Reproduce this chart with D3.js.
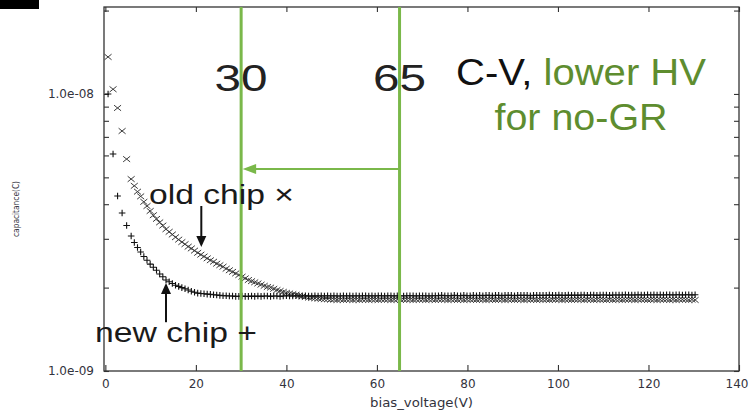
<!DOCTYPE html>
<html>
<head>
<meta charset="utf-8">
<script src="https://cdn.jsdelivr.net/npm/d3@7"></script>
<style>
  body { margin: 0; background: #fff; }
  svg { display: block; }
</style>
</head>
<body>
<svg id="chart" width="749" height="410"></svg>
<script>
// Bias sweep (V)
const biasVoltage = [
  0.6, 1.7, 2.7, 3.7, 4.7, 5.7,
  6.4, 7.1, 7.8, 8.5, 9.2, 9.9, 10.6, 11.3, 12, 12.7,
  13.4, 14.1, 14.8, 15.5, 16.2, 16.9, 17.6, 18.3, 19, 19.7,
  20.4, 21.1, 21.8, 22.5, 23.2, 23.9, 24.6, 25.3, 26, 26.7,
  27.4, 28.1, 28.8, 29.5, 30.2, 30.9, 31.6, 32.3, 33, 33.7,
  34.4, 35.1, 35.8, 36.5, 37.2, 37.9, 38.6, 39.3, 40, 40.7,
  41.4, 42.1, 42.8, 43.5, 44.2, 44.9, 45.6, 46.3, 47, 47.7,
  48.4, 49.1, 49.8, 50.5, 51.2, 51.9, 52.6, 53.3, 54, 54.7,
  55.4, 56.1, 56.8, 57.5, 58.2, 58.9, 59.6, 60.3, 61, 61.7,
  62.4, 63.1, 63.8, 64.5, 65.2, 65.9, 66.6, 67.3, 68, 68.7,
  69.4, 70.1, 70.8, 71.5, 72.2, 72.9, 73.6, 74.3, 75, 75.7,
  76.4, 77.1, 77.8, 78.5, 79.2, 79.9, 80.6, 81.3, 82, 82.7,
  83.4, 84.1, 84.8, 85.5, 86.2, 86.9, 87.6, 88.3, 89, 89.7,
  90.4, 91.1, 91.8, 92.5, 93.2, 93.9, 94.6, 95.3, 96, 96.7,
  97.4, 98.1, 98.8, 99.5, 100.2, 100.9, 101.6, 102.3, 103, 103.7,
  104.4, 105.1, 105.8, 106.5, 107.2, 107.9, 108.6, 109.3, 110, 110.7,
  111.4, 112.1, 112.8, 113.5, 114.2, 114.9, 115.6, 116.3, 117, 117.7,
  118.4, 119.1, 119.8, 120.5, 121.2, 121.9, 122.6, 123.3, 124, 124.7,
  125.4, 126.1, 126.8, 127.5, 128.2, 128.9, 129.6, 130.3
];

// Old chip capacitance (nF), drawn with "x"
const oldChipC = [
  13.6, 10.4, 8.9, 7.35, 5.82, 4.93,
  4.66, 4.44, 4.27, 4.08, 3.94, 3.78, 3.65, 3.54, 3.44, 3.35,
  3.25, 3.18, 3.11, 3.04, 2.98, 2.92, 2.87, 2.81, 2.77, 2.72,
  2.67, 2.63, 2.59, 2.55, 2.51, 2.48, 2.44, 2.41, 2.38, 2.34,
  2.31, 2.28, 2.25, 2.22, 2.19, 2.16, 2.13, 2.11, 2.09, 2.07,
  2.05, 2.03, 2.01, 2.00, 1.98, 1.96, 1.945, 1.93, 1.915, 1.905,
  1.895, 1.885, 1.87, 1.86, 1.85, 1.84, 1.835, 1.83, 1.825, 1.82,
  1.815, 1.815, 1.81, 1.81, 1.805, 1.81, 1.805, 1.81, 1.81, 1.805,
  1.81, 1.805, 1.81, 1.81, 1.805, 1.81, 1.81, 1.805, 1.81, 1.81,
  1.81, 1.805, 1.81, 1.81, 1.805, 1.81, 1.81, 1.81, 1.805, 1.81,
  1.81, 1.81, 1.805, 1.81, 1.81, 1.805, 1.81, 1.81, 1.81, 1.805,
  1.81, 1.81, 1.805, 1.81, 1.805, 1.81, 1.81, 1.81, 1.805, 1.81,
  1.81, 1.805, 1.81, 1.81, 1.805, 1.81, 1.81, 1.805, 1.81, 1.81,
  1.805, 1.81, 1.81, 1.805, 1.81, 1.81, 1.81, 1.805, 1.81, 1.81,
  1.81, 1.805, 1.81, 1.81, 1.81, 1.805, 1.81, 1.81, 1.805, 1.81,
  1.81, 1.81, 1.805, 1.81, 1.81, 1.805, 1.81, 1.81, 1.81, 1.805,
  1.81, 1.805, 1.81, 1.81, 1.805, 1.81, 1.81, 1.81, 1.805, 1.81,
  1.81, 1.81, 1.805, 1.81, 1.81, 1.805, 1.81, 1.81, 1.81, 1.805,
  1.81, 1.805, 1.81, 1.81, 1.81, 1.805, 1.81, 1.805
];

// New chip capacitance (nF), drawn with "+"
const newChipC = [
  10.0, 6.07, 4.28, 3.72, 3.35, 3.07,
  2.91, 2.79, 2.69, 2.59, 2.51, 2.43, 2.37, 2.31, 2.24, 2.19,
  2.13, 2.10, 2.07, 2.04, 2.02, 2.00, 1.98, 1.96, 1.94, 1.925,
  1.91, 1.905, 1.90, 1.895, 1.89, 1.885, 1.88, 1.875, 1.87, 1.87,
  1.865, 1.865, 1.86, 1.86, 1.865, 1.86, 1.86, 1.865, 1.86, 1.865,
  1.86, 1.865, 1.865, 1.86, 1.865, 1.865, 1.86, 1.865, 1.87, 1.865,
  1.865, 1.87, 1.865, 1.865, 1.87, 1.865, 1.865, 1.87, 1.865, 1.87,
  1.865, 1.87, 1.865, 1.87, 1.865, 1.865, 1.87, 1.865, 1.87, 1.865,
  1.87, 1.865, 1.87, 1.87, 1.865, 1.87, 1.865, 1.87, 1.87, 1.865,
  1.87, 1.87, 1.865, 1.87, 1.87, 1.865, 1.87, 1.87, 1.87, 1.865,
  1.87, 1.87, 1.87, 1.865, 1.87, 1.87, 1.87, 1.875, 1.87, 1.87,
  1.87, 1.875, 1.87, 1.87, 1.875, 1.87, 1.87, 1.875, 1.87, 1.875,
  1.87, 1.875, 1.875, 1.87, 1.875, 1.875, 1.87, 1.875, 1.875, 1.875,
  1.87, 1.875, 1.875, 1.875, 1.875, 1.87, 1.875, 1.875, 1.875, 1.875,
  1.875, 1.88, 1.875, 1.875, 1.88, 1.875, 1.875, 1.88, 1.875, 1.88,
  1.875, 1.88, 1.88, 1.875, 1.88, 1.88, 1.875, 1.88, 1.88, 1.88,
  1.875, 1.88, 1.88, 1.88, 1.88, 1.885, 1.88, 1.88, 1.88, 1.885,
  1.88, 1.88, 1.885, 1.88, 1.885, 1.88, 1.885, 1.88, 1.885, 1.885,
  1.88, 1.885, 1.885, 1.88, 1.885, 1.885, 1.88, 1.885
];

const xTickValues = [0, 20, 40, 60, 80, 100, 120, 140];
const yTickValues = [1, 2, 3, 4, 5, 6, 7, 8, 9, 10, 20];   // nF
const yLabelValues = [1, 10];
const yLabelTexts = ["1.0e-09", "1.0e-08"];

// Depletion reference lines (V) and their labels
const refVoltages = [30, 65];
const refLabels = ["30", "65"];

const svg = d3.select("#chart");

const x = d3.scaleLinear().domain([-0.3, 140]).range([104, 739]);
const y = d3.scaleLog().domain([1, 20.6]).range([371, 7]);

const axisColor = "#333";
const labelColor = "#33333d";
const lineGreen = "#7ab84a";
const textGreen = "#5e8d2f";

// black block in the corner
svg.append("rect").attr("x", 0).attr("y", 0).attr("width", 39).attr("height", 9).attr("fill", "#000");

// Axes (ticks point inward on all four sides)
function styleAxis(g) {
  g.select(".domain").remove();
  g.selectAll(".tick line").attr("stroke", axisColor).attr("stroke-width", 1.1);
  g.selectAll(".tick text")
    .attr("fill", labelColor)
    .style("font-family", "DejaVu Sans")
    .style("font-size", "12px");
}

const xAxisG = svg.append("g")
  .attr("transform", `translate(0,${y.range()[0]})`)
  .call(d3.axisBottom(x).tickValues(xTickValues).tickSizeInner(-6).tickSizeOuter(0).tickPadding(8))
  .call(styleAxis);
// keep the last label inside the page edge
xAxisG.selectAll(".tick text").filter(d => d === xTickValues[xTickValues.length - 1])
  .attr("text-anchor", "end").attr("dx", 9);

svg.append("g")
  .attr("transform", `translate(0,${y.range()[1]})`)
  .call(d3.axisTop(x).tickValues(xTickValues).tickSizeInner(-5).tickSizeOuter(0).tickFormat(""))
  .call(styleAxis);

svg.append("g")
  .attr("transform", `translate(${x.range()[0]},0)`)
  .call(d3.axisLeft(y).tickValues(yTickValues).tickSizeInner(-5).tickSizeOuter(0).tickPadding(10)
    .tickFormat(d => {
      const i = yLabelValues.indexOf(d);
      return i >= 0 ? yLabelTexts[i] : "";
    }))
  .call(styleAxis);

svg.append("g")
  .attr("transform", `translate(${x.range()[1]},0)`)
  .call(d3.axisRight(y).tickValues(yTickValues).tickSizeInner(-5).tickSizeOuter(0).tickFormat(""))
  .call(styleAxis);

// plot frame
svg.append("rect")
  .attr("x", x.range()[0]).attr("y", y.range()[1])
  .attr("width", x.range()[1] - x.range()[0])
  .attr("height", y.range()[0] - y.range()[1])
  .attr("fill", "none").attr("stroke", axisColor).attr("stroke-width", 1.3);

// axis titles
svg.append("text")
  .attr("x", (x.range()[0] + x.range()[1]) / 2)
  .attr("y", 407)
  .attr("text-anchor", "middle")
  .attr("fill", labelColor)
  .style("font-family", "DejaVu Sans").style("font-size", "12px")
  .attr("textLength", 103).attr("lengthAdjust", "spacingAndGlyphs")
  .text("bias_voltage(V)");

svg.append("text")
  .attr("transform", `translate(19,${(y.range()[0] + y.range()[1]) / 2 + 20}) rotate(-90)`)
  .attr("text-anchor", "middle")
  .attr("fill", labelColor)
  .style("font-family", "DejaVu Sans").style("font-size", "8px")
  .attr("textLength", 56).attr("lengthAdjust", "spacingAndGlyphs")
  .text("capacitance(C)");

// data markers
const oldPts = biasVoltage.map((v, i) => [v, oldChipC[i]]);
const newPts = biasVoltage.map((v, i) => [v, newChipC[i]]);

const crossPath = "M-3.5,-2.8L3.5,2.8M-3.5,2.8L3.5,-2.8";
const plusPath = "M-3.3,0L3.3,0M0,-3.3L0,3.3";

svg.append("g")
  .selectAll("path")
  .data(oldPts)
  .join("path")
  .attr("transform", d => `translate(${x(d[0])},${y(d[1])})`)
  .attr("d", crossPath)
  .attr("stroke", "#3c3c3c").attr("stroke-width", 1).attr("fill", "none");

svg.append("g")
  .selectAll("path")
  .data(newPts)
  .join("path")
  .attr("transform", d => `translate(${x(d[0])},${y(d[1])})`)
  .attr("d", plusPath)
  .attr("stroke", "#111").attr("stroke-width", 1.1).attr("fill", "none");

// reference lines
svg.append("g")
  .selectAll("line")
  .data(refVoltages)
  .join("line")
  .attr("x1", d => x(d)).attr("x2", d => x(d))
  .attr("y1", y.range()[1]).attr("y2", y.range()[0])
  .attr("stroke", lineGreen).attr("stroke-width", 3);

svg.append("g")
  .selectAll("text")
  .data(refVoltages)
  .join("text")
  .attr("x", d => x(d))
  .attr("y", 91)
  .attr("text-anchor", "middle")
  .attr("fill", "#222")
  .style("font-family", "Liberation Sans").style("font-size", "36px")
  .attr("textLength", 53).attr("lengthAdjust", "spacingAndGlyphs")
  .text((d, i) => refLabels[i]);

// green arrow from the 65 V line to the 30 V line
const arrowC = 5.36;
const ay = y(arrowC);
svg.append("line")
  .attr("x1", x(refVoltages[1])).attr("x2", x(refVoltages[0]) + 10)
  .attr("y1", ay).attr("y2", ay)
  .attr("stroke", lineGreen).attr("stroke-width", 2.2);
svg.append("path")
  .attr("d", `M${x(refVoltages[0]) + 1.5},${ay}L${x(refVoltages[0]) + 15},${ay - 5}L${x(refVoltages[0]) + 15},${ay + 5}Z`)
  .attr("fill", lineGreen);

// title text
const title = svg.append("text")
  .attr("x", 581).attr("y", 85)
  .attr("text-anchor", "middle")
  .style("font-family", "Liberation Sans").style("font-size", "36px")
  .attr("textLength", 250).attr("lengthAdjust", "spacingAndGlyphs");
title.append("tspan").attr("fill", "#111").text("C-V, ");
title.append("tspan").attr("fill", textGreen).text("lower HV");

svg.append("text")
  .attr("x", 581).attr("y", 130)
  .attr("text-anchor", "middle")
  .attr("fill", textGreen)
  .style("font-family", "Liberation Sans").style("font-size", "36px")
  .attr("textLength", 173).attr("lengthAdjust", "spacingAndGlyphs")
  .text("for no-GR");

// series annotations
svg.append("text")
  .attr("x", 149).attr("y", 204)
  .attr("fill", "#1a1a1a")
  .style("font-family", "Liberation Sans").style("font-size", "27px")
  .attr("textLength", 145).attr("lengthAdjust", "spacingAndGlyphs")
  .text("old chip \u00d7");

svg.append("text")
  .attr("x", 95).attr("y", 342)
  .attr("fill", "#1a1a1a")
  .style("font-family", "Liberation Sans").style("font-size", "27px")
  .attr("textLength", 162).attr("lengthAdjust", "spacingAndGlyphs")
  .text("new chip +");

// black pointer arrows (data units: voltage, tail capacitance, tip capacitance)
const pointers = [
  { v: 21.2, from: 3.94, to: 2.80 },
  { v: 13.4, from: 1.50, to: 2.08 }
];
pointers.forEach(p => {
  const px = x(p.v), y0 = y(p.from), y1 = y(p.to);
  const dir = Math.sign(y1 - y0);
  svg.append("line")
    .attr("x1", px).attr("x2", px)
    .attr("y1", y0).attr("y2", y1 - dir * 8)
    .attr("stroke", "#111").attr("stroke-width", 2);
  svg.append("path")
    .attr("d", `M${px},${y1}L${px - 5},${y1 - dir * 11}L${px + 5},${y1 - dir * 11}Z`)
    .attr("fill", "#111");
});
</script>
</body>
</html>
